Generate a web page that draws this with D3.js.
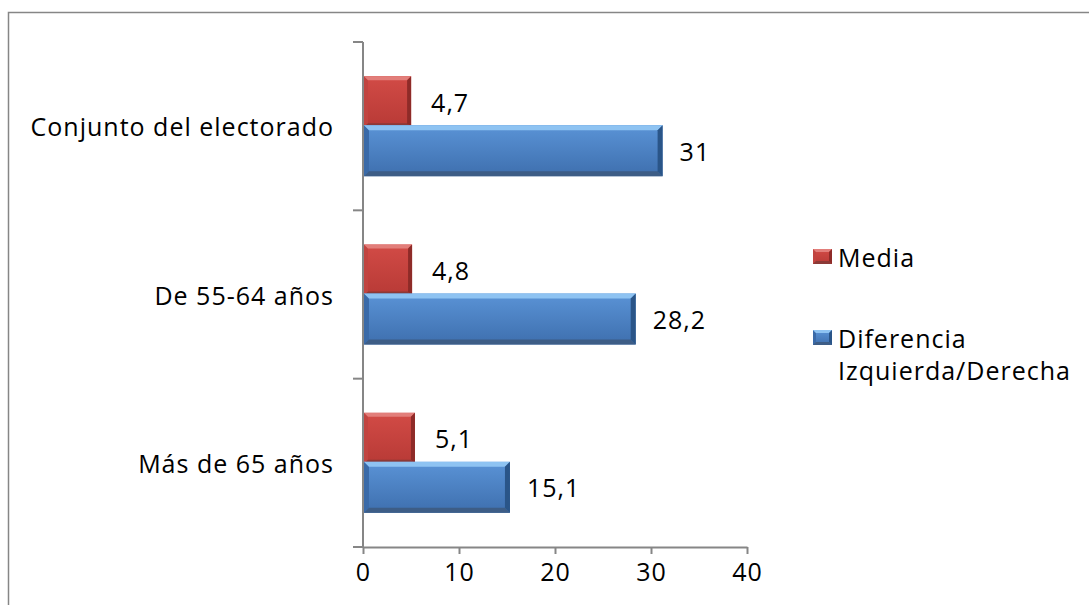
<!DOCTYPE html>
<html>
<head>
<meta charset="utf-8">
<script src="https://cdn.jsdelivr.net/npm/d3@7"></script>
<style>
  html, body { margin: 0; padding: 0; background: #fff; }
  svg { display: block; }
  text { font-family: "Open Sans", "Noto Sans", sans-serif; fill: #000; letter-spacing: 1px; }
</style>
</head>
<body>
<svg id="chart" width="1089" height="605"></svg>
<script>
// Age groups, listed top to bottom
const categories = ["Conjunto del electorado", "De 55-64 años", "Más de 65 años"];
// Series values per group
const mediaValues = [4.7, 4.8, 5.1];
const diferenciaValues = [31, 28.2, 15.1];
const valueLabels = {
  media: ["4,7", "4,8", "5,1"],
  diferencia: ["31", "28,2", "15,1"]
};
const xTicks = [0, 10, 20, 30, 40];
const seriesNames = ["Media", ["Diferencia", "Izquierda/Derecha"]];

const svg = d3.select("#chart");
const axisColor = "#868686";
const fontSize = 25;

// Outer chart frame (runs past the right and bottom edges)
svg.append("rect")
  .attr("x", 8.5).attr("y", 12.5)
  .attr("width", 1100).attr("height", 620)
  .attr("fill", "none").attr("stroke", axisColor).attr("stroke-width", 1.5);

const plot = { left: 363, right: 747, top: 42, bottom: 547 };

const x = d3.scaleLinear().domain([0, 40]).range([plot.left, plot.right]);
const y = d3.scaleBand().domain(categories).range([plot.top, plot.bottom]).padding(0);

// Colour sets for the bevelled bars
const palettes = {
  red:  { top: "#e27e7a", main0: "#d24b46", main1: "#b83a36", right: "#8e2b28", bottom: "#8c3a37", left: "#c14440" },
  blue: { top: "#8ec3f2", main0: "#5a93d6", main1: "#3e6fae", right: "#2a5588", bottom: "#3d5d86", left: "#3a6aa8" }
};

const defs = svg.append("defs");
Object.entries(palettes).forEach(([k, p]) => {
  const g = defs.append("linearGradient").attr("id", "grad-" + k)
    .attr("x1", 0).attr("y1", 0).attr("x2", 0).attr("y2", 1);
  g.append("stop").attr("offset", "0%").attr("stop-color", p.main0);
  g.append("stop").attr("offset", "100%").attr("stop-color", p.main1);
});

// Draws a bar with bevelled edges
function bevelBar(g, x0, x1, y0, h, key, b) {
  const p = palettes[key];
  const y1 = y0 + h;
  g.append("rect").attr("x", x0).attr("y", y0).attr("width", Math.max(0, x1 - x0)).attr("height", h)
    .attr("fill", `url(#grad-${key})`);
  const poly = (pts, fill) => g.append("polygon").attr("points", pts.map(d => d.join(",")).join(" ")).attr("fill", fill);
  poly([[x0, y0], [x0 + b, y0 + b], [x0 + b, y1 - b], [x0, y1]], p.left);
  poly([[x0, y1], [x1, y1], [x1 - b, y1 - b], [x0 + b, y1 - b]], p.bottom);
  poly([[x0, y0], [x1, y0], [x1 - b, y0 + b], [x0 + b, y0 + b]], p.top);
  poly([[x1, y0], [x1, y1], [x1 - b, y1 - b], [x1 - b, y0 + b]], p.right);
}

const bars = svg.append("g");
const barStart = x(0) + 1;
categories.forEach((c, i) => {
  const mid = y(c) + y.bandwidth() / 2;
  // Media bar (upper) and Diferencia bar (lower), slightly overlapping
  bevelBar(bars, barStart, x(mediaValues[i]) + 3, mid - 50, 51, "red", 4);
  bevelBar(bars, barStart, x(diferenciaValues[i]) + 2, mid - 1, 51, "blue", 5);

  bars.append("text")
    .attr("x", x(mediaValues[i]) + 23).attr("y", mid - 24.5)
    .attr("dominant-baseline", "central")
    .attr("font-size", fontSize).text(valueLabels.media[i]);
  bars.append("text")
    .attr("x", x(diferenciaValues[i]) + 19).attr("y", mid + 24.5)
    .attr("dominant-baseline", "central")
    .attr("font-size", fontSize).text(valueLabels.diferencia[i]);

  // Category label
  svg.append("text")
    .attr("x", plot.left - 29).attr("y", mid)
    .attr("text-anchor", "end").attr("dominant-baseline", "central")
    .attr("font-size", fontSize).text(c);
});

// Value axis
const xAxis = d3.axisBottom(x).tickValues(xTicks).tickSize(7).tickSizeOuter(0).tickFormat(d3.format("d"));
const gx = svg.append("g").attr("transform", `translate(0,${plot.bottom})`).call(xAxis);
gx.select(".domain").attr("stroke", axisColor).attr("stroke-width", 2);
gx.selectAll(".tick line").attr("stroke", axisColor).attr("stroke-width", 2);
gx.selectAll(".tick text").attr("font-size", fontSize).attr("font-family", "'Open Sans', sans-serif")
  .attr("fill", "#000").attr("dy", "0.95em");

// Category axis: line with ticks at band boundaries
const gy = svg.append("g");
gy.append("line").attr("x1", plot.left).attr("x2", plot.left)
  .attr("y1", plot.top).attr("y2", plot.bottom)
  .attr("stroke", axisColor).attr("stroke-width", 2);
const boundaries = categories.map(c => y(c)).concat([plot.bottom]);
gy.selectAll("line.tick").data(boundaries).join("line").attr("class", "tick")
  .attr("x1", plot.left - 10).attr("x2", plot.left)
  .attr("y1", d => d).attr("y2", d => d)
  .attr("stroke", axisColor).attr("stroke-width", 2);

// Legend
const legend = svg.append("g");
const legendItems = [
  { key: "red", lines: [seriesNames[0]], y: 257 },
  { key: "blue", lines: seriesNames[1], y: 338 }
];
legendItems.forEach(it => {
  bevelBar(legend, 813, 832, it.y - 8, 15, it.key, 3);
  it.lines.forEach((ln, j) => {
    legend.append("text")
      .attr("x", 838).attr("y", it.y + j * 32)
      .attr("dominant-baseline", "central")
      .attr("font-size", fontSize).text(ln);
  });
});
</script>
</body>
</html>
